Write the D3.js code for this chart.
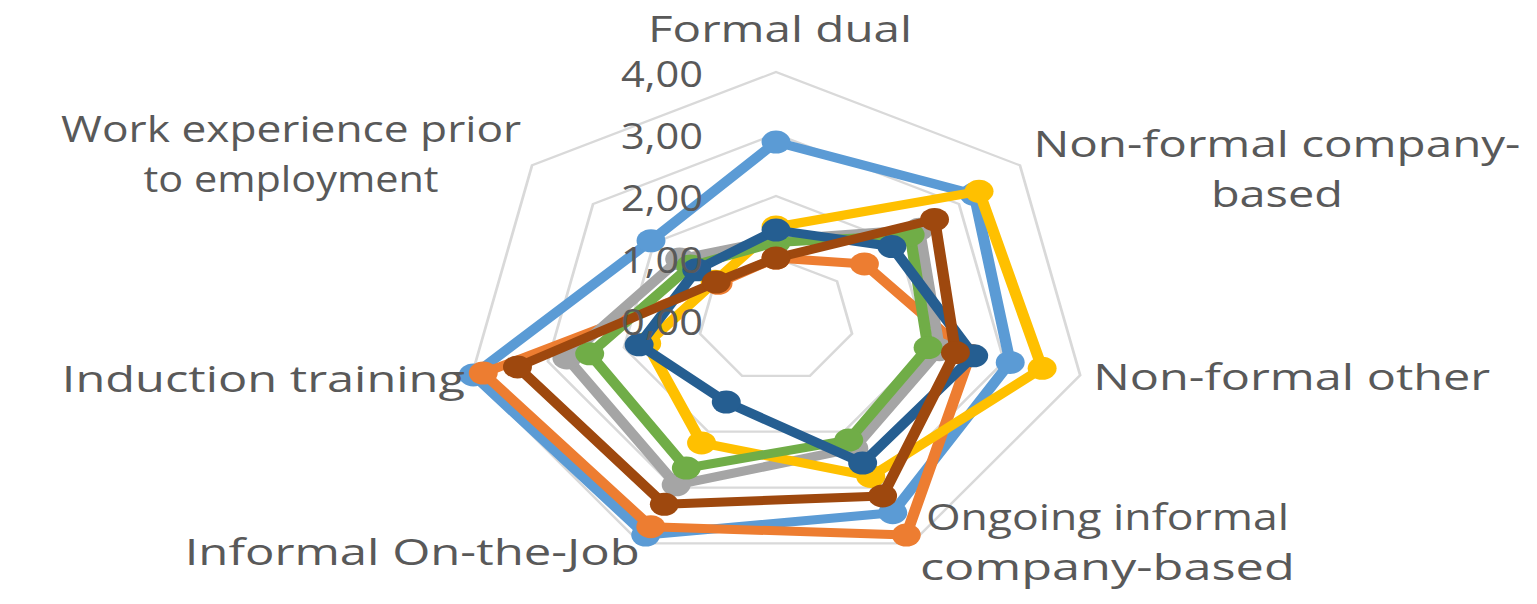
<!DOCTYPE html>
<html>
<head>
<meta charset="utf-8">
<script src="https://cdn.jsdelivr.net/npm/d3@7"></script>
<style>
  html, body { margin: 0; padding: 0; background: #ffffff; }
  svg { display: block; }
</style>
</head>
<body>
<svg id="chart" width="1537" height="604"></svg>
<script>
// ---------- data ----------
const categories = [
  "Formal dual",
  "Non-formal company-based",
  "Non-formal other",
  "Ongoing informal company-based",
  "Informal On-the-Job",
  "Induction training",
  "Work experience prior to employment"
];
const tickValues = [0, 1, 2, 3, 4];
const tickLabels = ["0,00", "1,00", "2,00", "3,00", "4,00"];

const seriesLightBlue = [2.87, 3.25, 3.08, 3.45, 3.85, 3.98, 2.05];
const seriesOrange    = [1.00, 1.45, 2.55, 3.85, 3.70, 3.85, 0.95];
const seriesGray      = [1.30, 2.35, 2.15, 2.30, 2.95, 2.75, 1.58];
const seriesYellow    = [1.50, 3.33, 3.50, 2.80, 2.20, 1.70, 1.00];
const seriesGreen     = [1.25, 2.20, 2.00, 2.15, 2.65, 2.45, 1.40];
const seriesDarkBlue  = [1.45, 1.90, 2.60, 2.56, 1.47, 1.80, 1.30];
const seriesBrown     = [1.00, 2.60, 2.36, 3.15, 3.30, 3.40, 0.98];

// ---------- layout / style ----------
const seriesList = [
  { values: seriesLightBlue, color: "#5B9BD5" },
  { values: seriesOrange,    color: "#ED7D31" },
  { values: seriesGray,      color: "#A5A5A5" },
  { values: seriesYellow,    color: "#FFC000" },
  { values: seriesGreen,     color: "#70AD47" },
  { values: seriesDarkBlue,  color: "#255E91" },
  { values: seriesBrown,     color: "#9E480E" }
];

const W = 1537, H = 604;
const cx = 776, cy = 320;
const R = 248;          // vertical radius for value 4
const sx = 1.258;       // horizontal stretch of the whole picture
const textColor = "#595959";
const fontFamily = "'Open Sans', 'Noto Sans', sans-serif";
const fontSize = 36;

const svg = d3.select("#chart");
svg.append("rect").attr("width", W).attr("height", H).attr("fill", "#fff");

const r = d3.scaleLinear().domain([0, 4]).range([0, R]);
const angle = d3.scalePoint().domain(categories).range([0, 2 * Math.PI * 6 / 7]);

function pt(cat, v) {
  const a = angle(cat);
  return [Math.sin(a) * r(v), -Math.cos(a) * r(v)];
}

const g = svg.append("g")
  .attr("transform", `translate(${cx},${cy}) scale(${sx},1)`);

// grid rings
const ringLine = d3.line().curve(d3.curveLinearClosed);
g.selectAll("path.ring").data(tickValues.filter(v => v > 0)).join("path")
  .attr("class", "ring")
  .attr("d", v => ringLine(categories.map(c => pt(c, v))))
  .attr("fill", "none")
  .attr("stroke", "#D9D9D9")
  .attr("stroke-width", 2.2);

// series
const seriesLine = d3.line().curve(d3.curveLinearClosed);
seriesList.forEach(s => {
  const pts = categories.map((c, i) => pt(c, s.values[i]));
  g.append("path")
    .attr("d", seriesLine(pts))
    .attr("fill", "none")
    .attr("stroke", s.color)
    .attr("stroke-width", 9)
    .attr("stroke-linejoin", "round");
  g.selectAll(null).data(pts).join("circle")
    .attr("cx", d => d[0]).attr("cy", d => d[1])
    .attr("r", 11.5)
    .attr("fill", s.color);
});

// tick labels (along the top axis, to the left)
const tickWidth = 82;
tickValues.forEach((v, i) => {
  const y = cy - r(v);
  svg.append("text")
    .attr("transform", `translate(703,${y + 15}) scale(${sx},1)`)
    .attr("text-anchor", "end")
    .attr("font-family", fontFamily)
    .attr("font-size", fontSize)
    .attr("fill", textColor)
    .attr("textLength", tickWidth / sx)
    .attr("lengthAdjust", "spacingAndGlyphs")
    .text(tickLabels[i]);
});

// category labels
const labelLines = [
  ["Formal dual"],
  ["Non-formal company-", "based"],
  ["Non-formal other"],
  ["Ongoing informal", "company-based"],
  ["Informal On-the-Job"],
  ["Induction training"],
  ["Work experience prior", "to employment"]
];
const labelLayout = [
  { anchor: "middle", dx: 4,    dy: -30, widths: [264] },
  { anchor: "middle", dx: 257,  dy: -8,  widths: [487, 132] },
  { anchor: "start",  dx: 13,   dy: 15,  widths: [397] },
  { anchor: "middle", dx: 196,  dy: -13, widths: [363, 375] },
  { anchor: "end",    dx: -1,   dy: 22,  widths: [455] },
  { anchor: "end",    dx: -7,   dy: 17,  widths: [403] },
  { anchor: "middle", dx: -241, dy: -23, widths: [460, 295] }
];
const lineGap = 50;
categories.forEach((c, i) => {
  const p = pt(c, 4);
  const vx = cx + p[0] * sx, vy = cy + p[1];
  const L = labelLayout[i];
  labelLines[i].forEach((t, j) => {
    svg.append("text")
      .attr("transform", `translate(${vx + L.dx},${vy + L.dy + j * lineGap}) scale(${sx},1)`)
      .attr("text-anchor", L.anchor)
      .attr("font-family", fontFamily)
      .attr("font-size", fontSize)
      .attr("fill", textColor)
      .attr("textLength", L.widths[j] / sx)
      .attr("lengthAdjust", "spacingAndGlyphs")
      .text(t);
  });
});
</script>
</body>
</html>
